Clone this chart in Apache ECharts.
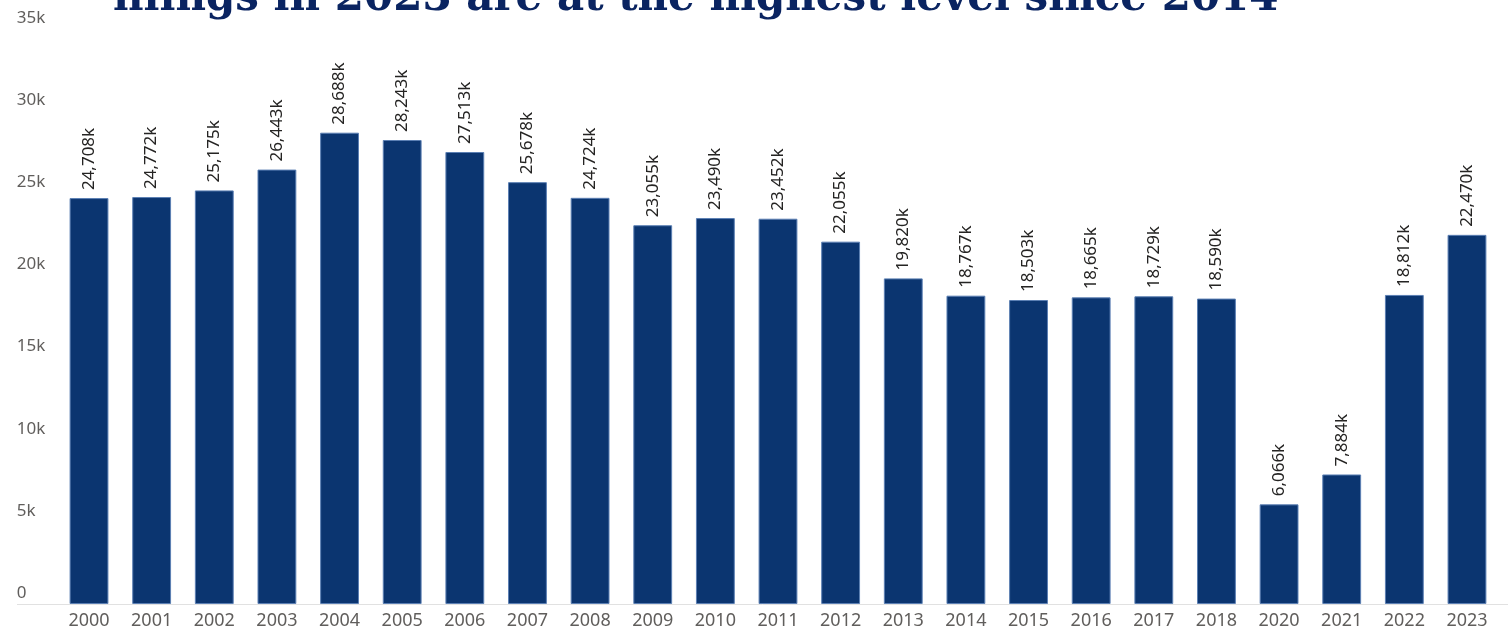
<!DOCTYPE html>
<html>
<head>
<meta charset="utf-8">
<script src="https://cdn.jsdelivr.net/npm/echarts@6/dist/echarts.min.js"></script>
<style>html,body{margin:0;padding:0;background:#fff;}#c{width:1512px;height:634px;}</style>
</head>
<body>
<div id="c"></div>
<script>
const titleText = 'filings in 2023 are at the highest level since 2014';
const years = ['2000','2001','2002','2003','2004','2005','2006','2007','2008','2009','2010','2011','2012','2013','2014','2015','2016','2017','2018','2020','2021','2022','2023'];
const filings = [24708,24772,25175,26443,28688,28243,27513,25678,24724,23055,23490,23452,22055,19820,18767,18503,18665,18729,18590,6066,7884,18812,22470];
const yTicks = [0,5000,10000,15000,20000,25000,30000,35000];

const chart = echarts.init(document.getElementById('c'), null, {renderer:'canvas'});
const font = 'Noto Sans';
chart.setOption({
  animation:false,
  backgroundColor:'#ffffff',
  graphic:[
    {type:'text', x:113, y:20, style:{text:titleText, font:'bold 42px "DejaVu Serif"', fill:'#0a2461', verticalAlign:'bottom', align:'left'}},
    {type:'line', shape:{x1:17,y1:604.5,x2:1508,y2:604.5}, style:{stroke:'#e1e1e1', lineWidth:1}, z:10}
  ],
  grid:{left:57.7, right:13.7, top:29, bottom:30, containLabel:false},
  xAxis:{
    type:'category', data:years,
    axisLine:{show:false}, axisTick:{show:false},
    axisLabel:{color:'#605e5c', fontFamily:font, fontSize:18, margin:8}
  },
  yAxis:{
    type:'value', min:yTicks[0], max:yTicks[yTicks.length-1], interval:5000,
    splitLine:{show:false}, axisLine:{show:false}, axisTick:{show:false},
    axisLabel:{color:'#605e5c', fontFamily:font, fontSize:17, align:'left', margin:41,
      verticalAlign:'bottom', lineHeight:22,
      formatter:v=> v===0 ? '0' : (v/1000)+'k'}
  },
  series:[{
    type:'bar', data:filings, barWidth:'62%',
    itemStyle:{color:'#0b3570', borderColor:'#5b7fb3', borderWidth:1},
    label:{show:true, position:'top', rotate:90, distance:8, align:'left', verticalAlign:'middle',
      color:'#252423', fontFamily:font, fontSize:17,
      formatter:p=> p.value.toLocaleString('en-US')+'k'}
  }]
});
</script>
</body>
</html>
